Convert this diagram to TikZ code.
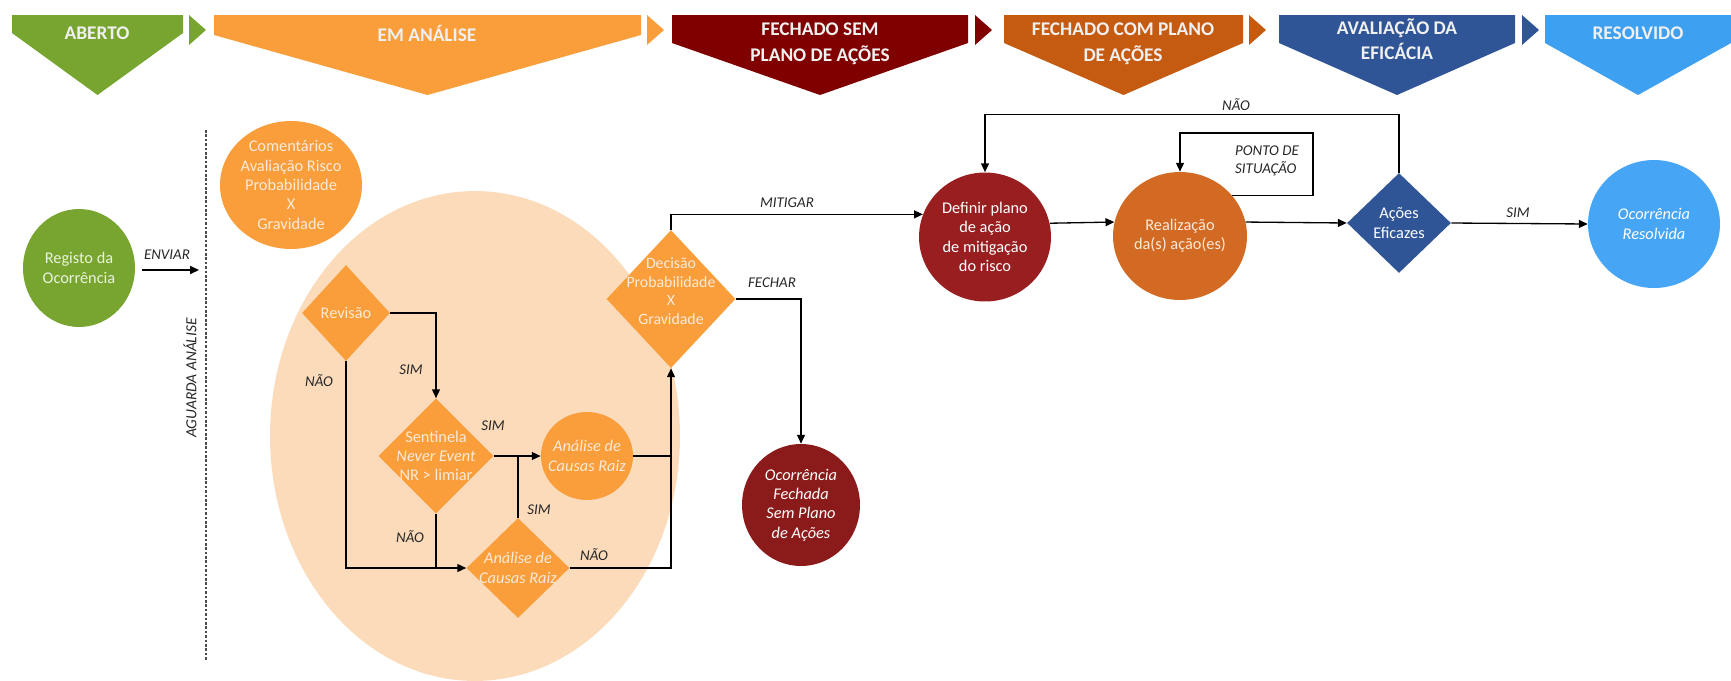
\documentclass[tikz,border=0pt]{standalone}
\usepackage{fontspec}
\setmainfont{Carlito}
\usetikzlibrary{shapes.geometric, arrows.meta}

\definecolor{cGreen}{RGB}{119,165,48}
\definecolor{cOrange}{RGB}{249,158,58}
\definecolor{cPeach}{RGB}{252,219,187}
\definecolor{cMaroon}{RGB}{128,0,0}
\definecolor{cRed}{RGB}{139,27,27}
\definecolor{cRedB}{RGB}{152,30,32}
\definecolor{cBurnt}{RGB}{197,90,17}
\definecolor{cBurntB}{RGB}{210,106,36}
\definecolor{cNavy}{RGB}{47,85,151}
\definecolor{cSky}{RGB}{62,160,240}
\definecolor{cSkyB}{RGB}{70,166,245}
\definecolor{pOr}{RGB}{253,234,216}
\definecolor{pGr}{RGB}{234,243,221}

\begin{document}
\begin{tikzpicture}[x=0.02cm, y=-0.02cm,
    shape_c/.style={ellipse, inner sep=0pt},
    shape_d/.style={diamond, inner sep=0pt},
    body_txt/.style={font=\fontsize{9.3}{11}\selectfont, align=center},
    it_txt/.style={font=\fontsize{9.3}{11}\selectfont\itshape, align=center},
    lbl/.style={font=\fontsize{8.5}{10}\selectfont\itshape, text=black!85},
    hdr/.style={font=\fontsize{11}{14.5}\selectfont\bfseries, align=center, text=white!94!black},
    ln/.style={line width=0.75pt},
    arr/.style={line width=0.75pt, -{Triangle[length=5pt, width=4.5pt]}}
]
\useasboundingbox (0,0) rectangle (1731,680);

% header chevrons
\foreach \xa/\xb/\ys/\col in {12/183/33/cGreen, 214/641/35/cOrange, 672/968/43/cMaroon,
    1004/1243/43/cBurnt, 1279/1515/43/cNavy, 1545/1731/43/cSky} {
    \fill[\col] (\xa,15) -- (\xb,15) -- (\xb,\ys) -- ({(\xa+\xb)/2},95) -- (\xa,\ys) -- cycle;
}
\foreach \xa/\col in {189/cGreen, 647/cOrange, 975/cMaroon, 1249/cBurnt, 1522/cNavy} {
    \fill[\col] (\xa,15) -- ({\xa+17},30) -- (\xa,45) -- cycle;
}
\node[hdr] (h-ab) at (97,33) {ABERTO};
\node[hdr] (h-em) at (427,33) {EM ANÁLISE};
\node[hdr] (h-fs) at (820,44) {FECHADO SEM\\PLANO DE AÇÕES};
\node[hdr] (h-fc) at (1123,44) {FECHADO COM PLANO\\DE AÇÕES};
\node[hdr] (h-av) at (1397,39) {AVALIAÇÃO DA\\EFICÁCIA};
\node[hdr] (h-rs) at (1638,33) {RESOLVIDO};

% analysis zone
\node[shape_c, fill=cPeach, minimum width=8.2cm, minimum height=9.8cm] (zone) at (475,436) {};
\draw[dash pattern=on 1.5pt off 1pt, line width=0.6pt, black!70] (206,130) -- (206,660);
\node[lbl, font=\fontsize{8.8}{10}\selectfont\itshape, rotate=90] (aguarda) at (190,378) {AGUARDA ANÁLISE};

% open
\node[shape_c, fill=cGreen, minimum width=2.24cm, minimum height=2.36cm] (reg) at (79,268) {};
\node[body_txt, text=pGr] (reg-t) at (reg) {Registo da\\Ocorrência};
\coordinate (env) at (199,270);
\draw[arr, shorten <=4pt] (reg.east |- env) -- (env);
\node[lbl] (l-env) at (167,255) {ENVIAR};

% in analysis
\node[shape_c, fill=cOrange, minimum width=2.84cm, minimum height=2.56cm] (com) at (291,185) {};
\node[body_txt, text=pOr] (com-t) at (com) {Comentários\\Avaliação Risco\\Probabilidade\\X\\Gravidade};

\node[shape_d, fill=cOrange, minimum width=1.76cm, minimum height=1.92cm] (rev) at (346,313) {};
\node[body_txt, text=pOr] (rev-t) at (rev) {Revisão};

\node[shape_d, fill=cOrange, minimum width=2.3cm, minimum height=2.3cm] (sen) at (436,456) {};
\node[body_txt, text=pOr] (sen-t) at (sen) {Sentinela\\\textit{Never Event}\\NR > limiar};

\node[shape_c, fill=cOrange, minimum width=1.84cm, minimum height=1.76cm] (acr) at (587,456) {};
\node[it_txt, text=pOr] (acr-t) at (acr) {Análise de\\Causas Raiz};

\node[shape_d, fill=cOrange, minimum width=2.06cm, minimum height=2cm] (ana) at (518,568) {};
\node[it_txt, text=pOr] (ana-t) at (ana) {Análise de\\Causas Raiz};

\node[shape_d, fill=cOrange, minimum width=2.58cm, minimum height=2.76cm] (dec) at (671,299) {};
\node[body_txt, text=pOr, font=\fontsize{9}{10.5}\selectfont] (dec-t) at (671,291) {Decisão\\Probabilidade\\X\\Gravidade};

% closed / action plan / evaluation / resolved
\node[shape_c, fill=cRed, minimum width=2.36cm, minimum height=2.44cm] (fsp) at (801,505) {};
\node[it_txt, text=white] (fsp-t) at (fsp) {Ocorrência\\Fechada\\Sem Plano\\de Ações};

\node[shape_c, fill=cRedB, minimum width=2.64cm, minimum height=2.58cm] (def) at (985,237) {};
\node[body_txt, text=white] (def-t) at (def) {Definir plano\\de ação\\de mitigação\\do risco};

\node[shape_c, fill=cBurntB, minimum width=2.68cm, minimum height=2.56cm] (real) at (1180,236) {};
\node[body_txt, text=pOr] (real-t) at (real) {Realização\\da(s) ação(es)};

\node[shape_d, fill=cNavy, minimum width=2.08cm, minimum height=2cm] (acs) at (1399,223) {};
\node[body_txt, text=white] (acs-t) at (acs) {Ações\\Eficazes};

\node[shape_c, fill=cSkyB, minimum width=2.64cm, minimum height=2.56cm] (res) at (1654,224) {};
\node[it_txt, text=white] (res-t) at (res) {Ocorrência\\Resolvida};

% connectors
\draw[arr] (rev.east) -| (sen.north);
\draw[arr] (rev.south) |- (ana.west);
\draw[arr] (sen.east) -- (acr.west);
\draw[ln] (sen.south) -- (sen.south |- ana.west);
\draw[ln] (ana.north) -- (ana.north |- acr.west);
\draw[arr] (ana.east) -| (dec.south);
\draw[ln] (acr.east) -- (acr.east -| dec.south);
\draw[arr] (dec.north) |- (def.160);
\draw[arr] (dec.east) -| (fsp.north);
\draw[arr] (def.12) -- (real.168);
\draw[arr] (real.12) -- (acs.west);
\draw[arr] (acs.east) -- (res.west);
\draw[arr] (acs.north) -- ++(0,-58) -| (def.north);
\coordinate (pto) at (1313,133);
\draw[arr] (real.38) -| (pto) -| (real.north);

% connector labels
\node[lbl] (l-sim1) at (411,370) {SIM};
\node[lbl] (l-nao1) at (319,381) {NÃO};
\node[lbl] (l-sim2) at (493,426) {SIM};
\node[lbl] (l-nao2) at (410,537) {NÃO};
\node[lbl] (l-sim3) at (539,510) {SIM};
\node[lbl] (l-nao3) at (594,555) {NÃO};
\node[lbl] (l-mit) at (787,203) {MITIGAR};
\node[lbl] (l-fec) at (772,283) {FECHAR};
\node[lbl] (l-nao4) at (1236,105) {NÃO};
\node[lbl] (l-sim4) at (1518,213) {SIM};
\node[lbl, align=left, anchor=west] (l-pto) at (1229,161) {PONTO DE\\SITUAÇÃO};
\end{tikzpicture}
\end{document}
